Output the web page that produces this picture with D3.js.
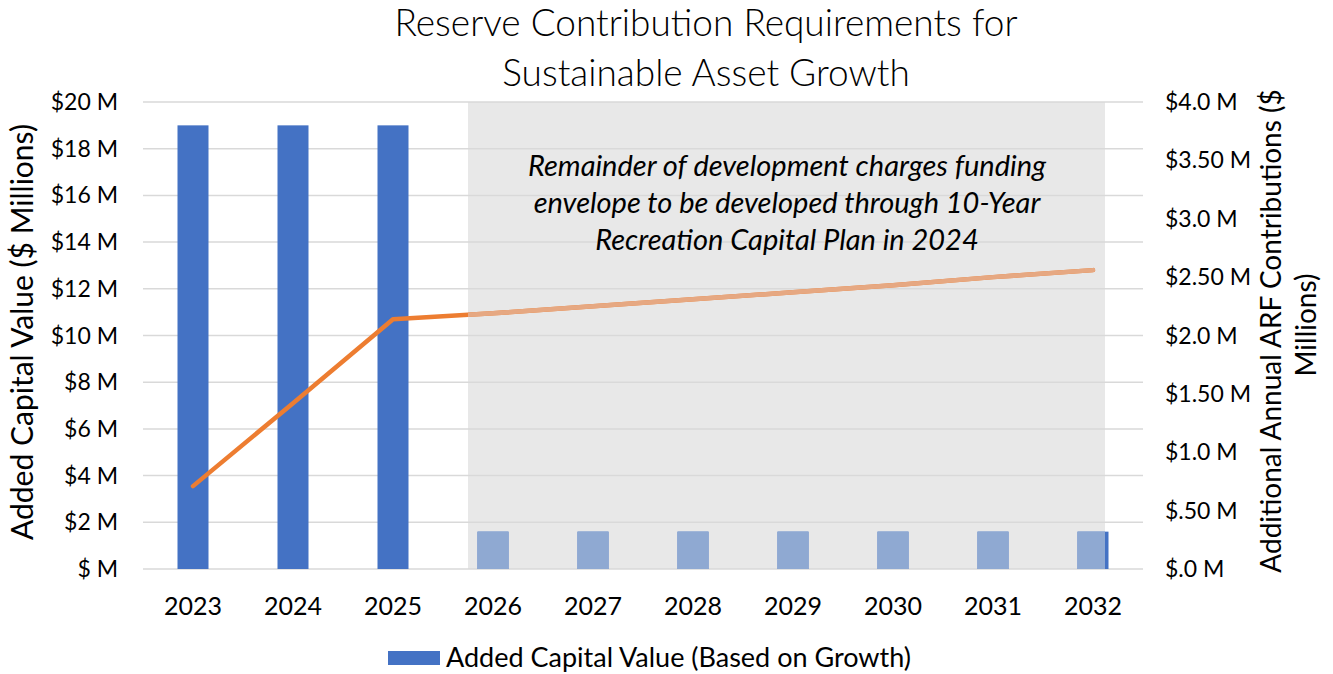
<!DOCTYPE html>
<html>
<head>
<meta charset="utf-8">
<script src="https://cdn.jsdelivr.net/npm/d3@7"></script>
<style>
  body { margin: 0; background: #fff; }
  text { font-family: Lato, "Open Sans", sans-serif; fill: #000; }
</style>
</head>
<body>
<svg id="chart" width="1333" height="674"></svg>
<script>
// Chart data
var years = ["2023", "2024", "2025", "2026", "2027", "2028", "2029", "2030", "2031", "2032"];
var addedCapital = [19, 19, 19, 1.6, 1.6, 1.6, 1.6, 1.6, 1.6, 1.6];          // $ millions, left axis
var arfContrib = [0.71, 1.42, 2.14, 2.19, 2.25, 2.31, 2.37, 2.43, 2.50, 2.56]; // $ millions, right axis
var leftTicks = [0, 2, 4, 6, 8, 10, 12, 14, 16, 18, 20];
var rightTickLabels = ["$.0 M", "$.50 M", "$1.0 M", "$1.50 M", "$2.0 M", "$2.50 M", "$3.0 M", "$3.50 M", "$4.0 M"];
var rightTicks = [0, 0.5, 1, 1.5, 2, 2.5, 3, 3.5, 4];
// shaded "to be developed" region, in category index units (center to center)
var shadeFrom = 2.75;   // starts 3/4 of the way past 2025
var shadeTo = 9.12;     // just past the 2032 centre
var noteLines = ["Remainder of development charges funding",
                 "envelope to be developed through 10-Year",
                 "Recreation Capital Plan in 2024"];

var svg = d3.select("#chart");
var plotL = 143, plotR = 1143, plotT = 102, plotB = 569;

var x = d3.scaleBand().domain(years).range([plotL, plotR]).paddingInner(0.69).paddingOuter(0.345);
var xi = d3.scaleLinear().domain([0, years.length - 1])
    .range([x(years[0]) + x.bandwidth() / 2, x(years[years.length - 1]) + x.bandwidth() / 2]);
var y = d3.scaleLinear().domain([0, 20]).range([plotB, plotT]);
var y2 = d3.scaleLinear().domain([0, 4]).range([plotB, plotT]);

// Shaded box (behind)
var shadeX0 = xi(shadeFrom), shadeX1 = xi(shadeTo);
svg.append("rect")
    .attr("x", shadeX0).attr("y", plotT)
    .attr("width", shadeX1 - shadeX0).attr("height", plotB - plotT)
    .attr("fill", "#e8e8e8");

// Gridlines
svg.append("g").selectAll("line")
    .data(leftTicks)
    .enter().append("line")
    .attr("x1", plotL).attr("x2", plotR)
    .attr("y1", function (d) { return y(d); })
    .attr("y2", function (d) { return y(d); })
    .attr("stroke", "#d9d9d9")
    .attr("stroke-width", 1.5);

// Clip for the shaded region
svg.append("defs").append("clipPath").attr("id", "shade")
    .append("rect")
    .attr("x", shadeX0).attr("y", 0)
    .attr("width", shadeX1 - shadeX0).attr("height", 674);

var lineGen = d3.line()
    .x(function (d, i) { return xi(i); })
    .y(function (d) { return y2(d); });

function drawMarks(g, barColor, lineColor) {
    g.selectAll(".bar")
        .data(addedCapital)
        .enter().append("rect")
        .attr("class", "bar")
        .attr("x", function (d, i) { return x(years[i]); })
        .attr("y", function (d) { return y(d); })
        .attr("width", x.bandwidth())
        .attr("height", function (d) { return plotB - y(d); })
        .attr("fill", barColor);
    g.append("path")
        .datum(arfContrib)
        .attr("d", lineGen)
        .attr("fill", "none")
        .attr("stroke", lineColor)
        .attr("stroke-width", 4.5)
        .attr("stroke-linecap", "round")
        .attr("stroke-linejoin", "round");
}

drawMarks(svg.append("g"), "#4472c4", "#ed7d31");
drawMarks(svg.append("g").attr("clip-path", "url(#shade)"), "#8fa9d2", "#e6a882");

// Annotation
svg.append("text")
    .attr("x", 787).attr("y", 176)
    .attr("text-anchor", "middle")
    .attr("font-size", 29)
    .attr("font-style", "italic")
    .selectAll("tspan")
    .data(noteLines)
    .enter().append("tspan")
    .attr("x", 787)
    .attr("dy", function (d, i) { return i === 0 ? 0 : 37; })
    .text(function (d) { return d; });

// Left axis labels
svg.append("g").selectAll("text")
    .data(leftTicks)
    .enter().append("text")
    .attr("x", 118)
    .attr("y", function (d) { return y(d) + 8; })
    .attr("text-anchor", "end")
    .attr("font-size", 23)
    .text(function (d) { return d === 0 ? "$ M" : "$" + d + " M"; });

// Right axis labels
svg.append("g").selectAll("text")
    .data(rightTicks)
    .enter().append("text")
    .attr("x", 1165)
    .attr("y", function (d) { return y2(d) + 8; })
    .attr("font-size", 23)
    .text(function (d, i) { return rightTickLabels[i]; });

// Category labels
svg.append("g").selectAll("text")
    .data(years)
    .enter().append("text")
    .attr("x", function (d) { return x(d) + x.bandwidth() / 2; })
    .attr("y", 615)
    .attr("text-anchor", "middle")
    .attr("font-size", 25)
    .text(function (d) { return d; });

// Axis titles
svg.append("text")
    .attr("transform", "translate(33,332) rotate(-90)")
    .attr("text-anchor", "middle")
    .attr("font-size", 30)
    .text("Added Capital Value ($ Millions)");

svg.append("text")
    .attr("transform", "translate(1281,331) rotate(-90)")
    .attr("text-anchor", "middle")
    .attr("font-size", 28)
    .text("Additional Annual ARF Contributions ($");
svg.append("text")
    .attr("transform", "translate(1316,325) rotate(-90)")
    .attr("text-anchor", "middle")
    .attr("font-size", 28)
    .text("Millions)");

// Title
svg.append("text")
    .attr("x", 706).attr("y", 36)
    .attr("text-anchor", "middle")
    .attr("font-size", 37)
    .attr("font-weight", 300)
    .text("Reserve Contribution Requirements for");
svg.append("text")
    .attr("x", 706).attr("y", 86)
    .attr("text-anchor", "middle")
    .attr("font-size", 37)
    .attr("font-weight", 300)
    .text("Sustainable Asset Growth");

// Legend
svg.append("rect")
    .attr("x", 388).attr("y", 651)
    .attr("width", 52).attr("height", 14)
    .attr("fill", "#4472c4");
svg.append("text")
    .attr("x", 446).attr("y", 667)
    .attr("font-size", 27)
    .text("Added Capital Value (Based on Growth)");
</script>
</body>
</html>
